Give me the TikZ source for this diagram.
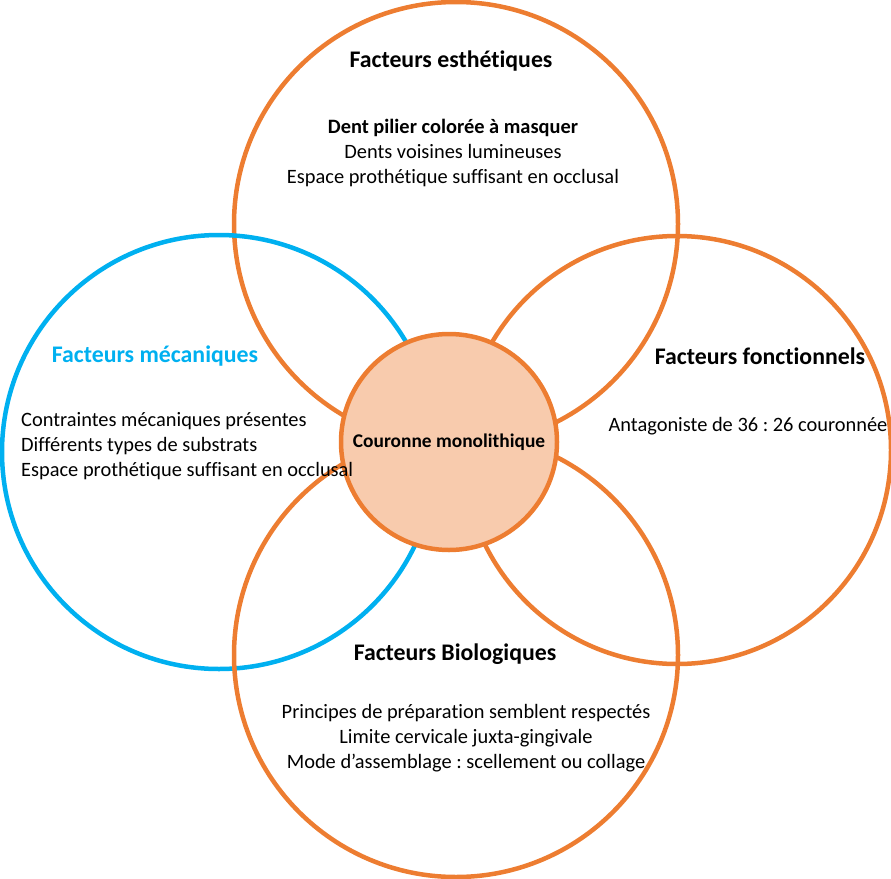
\documentclass[tikz,border=0pt]{standalone}
\usepackage{fontspec}
\setmainfont{Carlito}[Ligatures=NoCommon]
\frenchspacing
\usetikzlibrary{positioning}

\definecolor{ringorange}{HTML}{ED7D31}
\definecolor{ringblue}{HTML}{00B0F0}
\definecolor{corefill}{HTML}{F8CBAD}

\begin{document}
\begin{tikzpicture}[
    x=1pt, y=-1pt,
    font=\fontsize{20.4}{24.8}\selectfont,
    ring/.style={
        circle,
        draw=ringorange,
        line width=4.5pt,
        inner sep=0pt
    },
    bluering/.style={ring, draw=ringblue},
    core/.style={ring, fill=corefill, font=\fontsize{19.4}{22}\selectfont\bfseries},
    title/.style={font=\fontsize{23.8}{26}\selectfont\bfseries, inner sep=0pt},
    items/.style={align=center, inner sep=0pt}
]
\useasboundingbox (0,0) rectangle (891,878);

% ============================================================
% CERCLES
% ============================================================
\node[ring, minimum size=444pt] (esth) at (456,224) {};
\node[bluering, minimum size=434pt] (meca) at (219,452) {};
\node[ring, minimum size=428pt] (fonc) at (677,450) {};
\node[ring, minimum size=444pt] (bio) at (456,655) {};
\node[core, minimum size=216pt] (couronne) at (449,442) {Couronne monolithique};

% ============================================================
% FACTEURS ESTHETIQUES
% ============================================================
\node[title] (esthtitle) at (451,61) {Facteurs esthétiques};
\node[items] (esthlist) at (453,153) {\textbf{Dent pilier colorée à masquer}\\
    Dents voisines lumineuses\\
    Espace prothétique suffisant en occlusal};

% ============================================================
% FACTEURS MECANIQUES
% ============================================================
\node[title, text=ringblue] (mecatitle) at (155,356) {Facteurs mécaniques};
\node[items, align=left, anchor=west] (mecalist) at (21,446) {Contraintes mécaniques présentes\\
    Différents types de substrats\\
    Espace prothétique suffisant en occlusal};

% ============================================================
% FACTEURS FONCTIONNELS
% ============================================================
\node[title] (fonctitle) at (760,356) {Facteurs fonctionnels};
\node[items] (fonclist) at (748,426) {Antagoniste de 36 : 26 couronnée};

% ============================================================
% FACTEURS BIOLOGIQUES
% ============================================================
\node[title] (biotitle) at (455,654) {Facteurs Biologiques};
\node[items] (biolist) at (466,738) {Principes de préparation semblent respectés\\
    Limite cervicale juxta-gingivale\\
    Mode d’assemblage : scellement ou collage};

\end{tikzpicture}
\end{document}
